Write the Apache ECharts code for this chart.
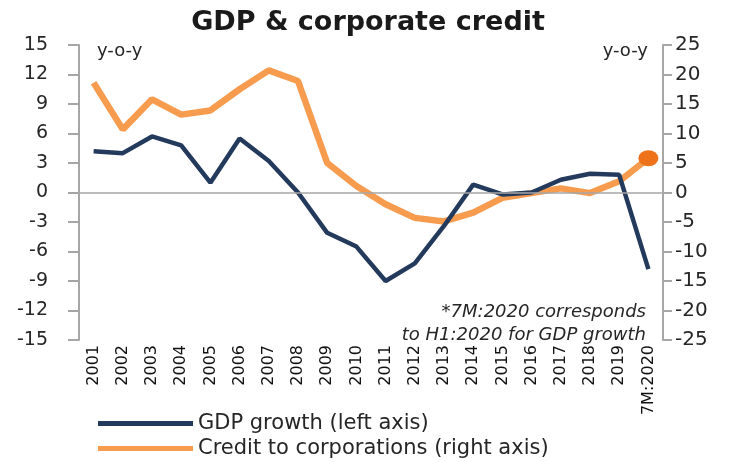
<!DOCTYPE html>
<html>
<head>
<meta charset="utf-8">
<script src="https://cdn.jsdelivr.net/npm/echarts@6/dist/echarts.min.js"></script>
<style>
  html, body { margin: 0; padding: 0; background: #fff; }
  #chart { width: 736px; height: 462px; }
</style>
</head>
<body>
<div id="chart"></div>
<script>
    const years = ['2001', '2002', '2003', '2004', '2005', '2006', '2007', '2008', '2009', '2010',
        '2011', '2012', '2013', '2014', '2015', '2016', '2017', '2018', '2019', '7M:2020'];
    const gdpGrowth = [4.2, 4.0, 5.7, 4.8, 1.0, 5.5, 3.2, 0.0, -4.1, -5.5,
        -9.0, -7.2, -3.4, 0.8, -0.2, 0.0, 1.3, 1.9, 1.8, -7.8];
    const corpCredit = [18.6, 10.7, 15.8, 13.2, 13.9, 17.5, 20.7, 18.9, 5.0, 1.1,
        -2.0, -4.3, -4.9, -3.4, -0.9, -0.1, 0.7, -0.1, 1.9, 5.8];
    const leftTicks = {min: -15, max: 15, interval: 3};
    const rightTicks = {min: -25, max: 25, interval: 5};
    const seriesNames = ['GDP growth (left axis)', 'Credit to corporations (right axis)'];
    const noteLines = ['*7M:2020 corresponds', 'to H1:2020 for GDP growth'];

    const axisGray = '#a6a6a6';
    const FONT = 'DejaVu Sans';
    const textColor = '#262626';

    // last credit point gets the big dot
    const creditData = corpCredit.map((v, i) => i === corpCredit.length - 1
        ? {value: v, symbol: 'circle', symbolSize: [20, 16], itemStyle: {color: '#ee7219'}}
        : v);

    const legendBase = {
        left: 98,
        itemWidth: 95,
        itemHeight: 5,
        icon: 'rect',
        padding: 0,
        textStyle: {fontSize: 21, color: textColor, fontFamily: FONT}
    };

    const noteStyle = {fontSize: 18, fontStyle: 'italic', fill: textColor, fontFamily: FONT};

    const option = {
        animation: false,
        title: {
            text: 'GDP & corporate credit',
            left: 'center',
            top: 4,
            textStyle: {fontSize: 27, fontWeight: 'bold', color: '#1a1a1a', fontFamily: FONT}
        },
        legend: [
            Object.assign({top: 413, data: [seriesNames[0]]}, legendBase),
            Object.assign({top: 438, data: [seriesNames[1]]}, legendBase)
        ],
        graphic: [
            {type: 'text', left: 97, top: 42, style: {text: 'y-o-y', fontSize: 18, fill: textColor, fontFamily: FONT}},
            {type: 'text', right: 88, top: 42, style: {text: 'y-o-y', fontSize: 18, fill: textColor, fontFamily: FONT}},
            {type: 'text', right: 90, top: 303, style: Object.assign({text: noteLines[0]}, noteStyle)},
            {type: 'text', right: 90, top: 326, style: Object.assign({text: noteLines[1]}, noteStyle)}
        ],
        grid: {left: 79, right: 73, top: 45, bottom: 122},
        xAxis: {
            type: 'category',
            data: years,
            boundaryGap: true,
            axisLine: {show: false},
            axisTick: {show: false},
            axisLabel: {rotate: 90, margin: 5, fontSize: 16, color: '#111', fontFamily: FONT, interval: 0}
        },
        yAxis: [
            {
                type: 'value',
                min: leftTicks.min, max: leftTicks.max, interval: leftTicks.interval,
                axisLine: {show: true, lineStyle: {color: axisGray, width: 2}},
                axisTick: {show: true, length: 11, lineStyle: {color: axisGray, width: 2}},
                axisLabel: {margin: 31, fontSize: 19, color: textColor, fontFamily: FONT},
                splitLine: {show: false}
            },
            {
                type: 'value',
                min: rightTicks.min, max: rightTicks.max, interval: rightTicks.interval,
                axisLine: {show: true, lineStyle: {color: axisGray, width: 2}},
                axisTick: {show: true, length: 9, lineStyle: {color: axisGray, width: 2}},
                axisLabel: {margin: 12, fontSize: 20, color: textColor, fontFamily: FONT},
                splitLine: {show: false}
            }
        ],
        series: [
            {
                name: seriesNames[0],
                type: 'line',
                yAxisIndex: 0,
                data: gdpGrowth,
                symbol: 'none',
                z: 3,
                itemStyle: {color: '#243a5c'},
                lineStyle: {color: '#243a5c', width: 4.5},
                markLine: {
                    silent: true,
                    symbol: 'none',
                    label: {show: false},
                    lineStyle: {color: axisGray, width: 1.5, type: 'solid'},
                    data: [{yAxis: 0}]
                }
            },
            {
                name: seriesNames[1],
                type: 'line',
                yAxisIndex: 1,
                data: creditData,
                symbol: 'none',
                z: 2,
                itemStyle: {color: '#f79c4f'},
                lineStyle: {color: '#f79c4f', width: 6.5}
            }
        ]
    };

    let myChart = echarts.init(document.getElementById('chart'));
    myChart.setOption(option);
</script>
</body>
</html>
